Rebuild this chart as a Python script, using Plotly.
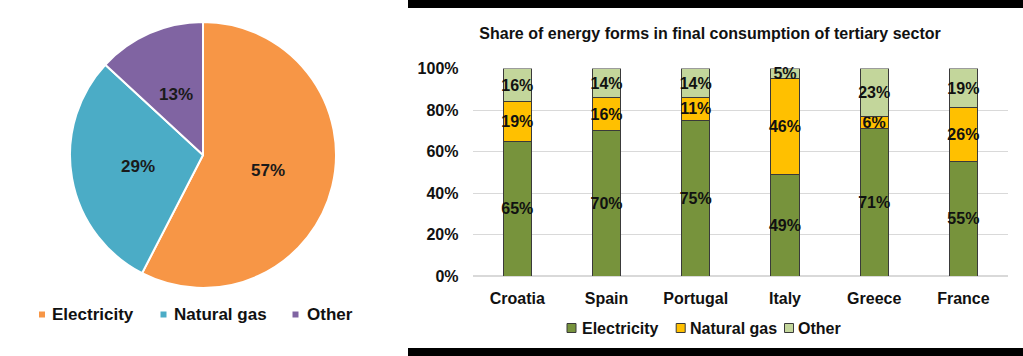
import math
import plotly.graph_objects as go

# Pie data (left)
pie_labels = ["Electricity", "Natural gas", "Other"]
pie_values = [57, 29, 13]
pie_colors = ["#F79646", "#4BACC6", "#8064A2"]

# Bar data (right)
countries = ["Croatia", "Spain", "Portugal", "Italy", "Greece", "France"]
electricity = [65, 70, 75, 49, 71, 55]
natural_gas = [19, 16, 11, 46, 6, 26]
other = [16, 14, 14, 5, 23, 19]
bar_names = ["Electricity", "Natural gas", "Other"]
bar_colors = ["#77933C", "#FFC000", "#C3D69B"]
y_ticks = [0, 20, 40, 60, 80, 100]
y_ticklabels = [f"{v}%" for v in y_ticks]
title_text = "Share of energy forms in final consumption of tertiary sector"

W, H = 1023, 356
FONT = "Liberation Sans, Arial, sans-serif"
TXT = "#111111"

def px(x):
    return x / W

def py(y):
    return 1 - y / H

PCX, PCY, PR = 203, 155, 133
DOM = PR

fig = go.Figure()

fig.add_trace(go.Pie(
    labels=pie_labels, values=pie_values,
    marker=dict(colors=pie_colors, line=dict(color="white", width=2)),
    sort=False, direction="clockwise", rotation=0,
    textinfo="none", showlegend=False, automargin=False,
    domain=dict(x=[px(PCX - DOM), px(PCX + DOM)], y=[py(PCY + DOM), py(PCY - DOM)]),
    hoverinfo="label+percent",
))

annotations = []
total = sum(pie_values)
cum = 0
for v in pie_values:
    mid = (cum + v / 2) / total * 2 * math.pi
    cum += v
    lx = PCX + 0.5 * PR * math.sin(mid)
    ly = PCY - 0.5 * PR * math.cos(mid)
    annotations.append(dict(x=px(lx), y=py(ly), xref="paper", yref="paper",
                            text=f"<b>{v}%</b>", showarrow=False,
                            xanchor="center", yanchor="middle",
                            font=dict(family=FONT, size=17, color="#1A1A1A")))

for name, vals, col in zip(bar_names, [electricity, natural_gas, other], bar_colors):
    fig.add_trace(go.Bar(
        x=countries, y=vals, name=name, showlegend=False,
        marker=dict(color=col, line=dict(color="#3A3A3A", width=1)),
        text=[f"<b>{v}%</b>" for v in vals], textposition="inside",
        insidetextanchor="middle", constraintext="none",
        textfont=dict(family=FONT, size=16, color=TXT),
        textangle=0, cliponaxis=False,
    ))

shapes = [
    dict(type="rect", xref="paper", yref="paper", x0=px(408), x1=1,
         y0=py(8), y1=1, fillcolor="black", line=dict(width=0), layer="above"),
    dict(type="rect", xref="paper", yref="paper", x0=px(408), x1=1,
         y0=0, y1=py(348), fillcolor="black", line=dict(width=0), layer="above"),
]

pie_leg_sq = [42, 163.5, 295.5]
pie_leg_tx = [50, 172, 305]
for name, col, sx, tx in zip(pie_labels, pie_colors, pie_leg_sq, pie_leg_tx):
    shapes.append(dict(type="rect", xref="paper", yref="paper",
                       x0=px(sx - 3), x1=px(sx + 3), y0=py(317.5), y1=py(311.5),
                       fillcolor=col, line=dict(width=0)))
    annotations.append(dict(x=px(tx), y=py(314), xref="paper", yref="paper",
                            text=f"<b>{name}</b>", showarrow=False,
                            xanchor="left", yanchor="middle",
                            font=dict(family=FONT, size=17, color=TXT)))

bar_leg_sq = [571.5, 680.7, 789]
bar_leg_tx = [580, 687.5, 796]
for name, col, sx, tx in zip(bar_names, bar_colors, bar_leg_sq, bar_leg_tx):
    shapes.append(dict(type="rect", xref="paper", yref="paper",
                       x0=px(sx - 4.5), x1=px(sx + 4.5), y0=py(332.5), y1=py(323.5),
                       fillcolor=col, line=dict(color="#3A3A3A", width=1)))
    annotations.append(dict(x=px(tx), y=py(328), xref="paper", yref="paper",
                            text=f"<b>{name}</b>", showarrow=False,
                            xanchor="left", yanchor="middle",
                            font=dict(family=FONT, size=16, color=TXT)))

fig.update_layout(
    width=W, height=H, autosize=False,
    margin=dict(l=0, r=0, t=0, b=0, pad=0, autoexpand=False),
    paper_bgcolor="white", plot_bgcolor="white",
    barmode="stack", bargap=0.685,
    font=dict(family=FONT, color=TXT),
    showlegend=False,
    title=dict(text=f"<b>{title_text}</b>", x=px(710), y=py(33),
               xanchor="center", yanchor="middle", automargin=False,
               font=dict(family=FONT, size=16, color=TXT)),
    xaxis=dict(domain=[px(472.7), px(1008)], showgrid=False, showline=False,
               automargin=False,
               ticks="outside", ticklen=8, tickcolor="rgba(0,0,0,0)",
               tickfont=dict(family=FONT, size=16, color=TXT),
               tickvals=countries, ticktext=[f"<b>{c}</b>" for c in countries]),
    yaxis=dict(domain=[py(276), py(68.5)], range=[0, 100], automargin=False,
               tickvals=y_ticks, ticktext=[f"<b>{t}</b>" for t in y_ticklabels],
               showgrid=True, gridcolor="#D9D9D9", gridwidth=1,
               zeroline=True, zerolinecolor="#D9D9D9", showline=False,
               ticks="outside", ticklen=10, tickcolor="rgba(0,0,0,0)",
               tickfont=dict(family=FONT, size=16, color=TXT)),
    shapes=shapes,
    annotations=annotations,
)

fig.write_html("out.html",
               config=dict(responsive=False, displayModeBar=False),
               post_script="document.body.style.margin='0';document.body.style.padding='0';")
